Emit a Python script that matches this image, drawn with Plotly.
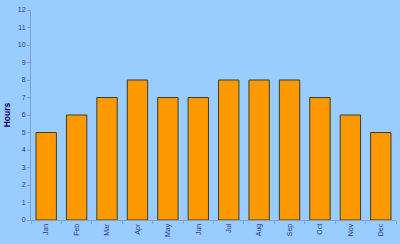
import plotly.graph_objects as go

months = ["Jan", "Feb", "Mar", "Apr", "May", "Jun", "Jul", "Aug", "Sep", "Oct", "Nov", "Dec"]
hours = [5, 6, 7, 8, 7, 7, 8, 8, 8, 7, 6, 5]
y_ticks = list(range(0, 13))

fig = go.Figure()
fig.add_trace(go.Bar(
    x=months, y=hours,
    marker=dict(color="#FF9900", line=dict(color="#3d3d2a", width=1)),
))

axis_color = "#7f9fcf"
font_color = "#333399"

fig.update_layout(
    width=400, height=244,
    margin=dict(l=31, r=4, t=10, b=24),
    paper_bgcolor="#99CCFF",
    plot_bgcolor="#99CCFF",
    bargap=0.33,
    showlegend=False,
    font=dict(family="Liberation Sans, Arial", size=7, color=font_color),
    xaxis=dict(
        type="category",
        showline=True, linecolor=axis_color, linewidth=1,
        ticks="outside", tickson="boundaries", ticklen=3, tickcolor=axis_color,
        tickangle=-90, showgrid=False,
        tickfont=dict(size=7, color=font_color),
    ),
    yaxis=dict(
        range=[0, 12], tickvals=y_ticks,
        showline=True, linecolor=axis_color, linewidth=1,
        ticks="outside", ticklen=3, tickcolor=axis_color,
        showgrid=False, zeroline=False,
        tickfont=dict(size=7, color=font_color),
        title=dict(text="<b>Hours</b>", font=dict(size=8.5, color="#000066"), standoff=5),
    ),
)

fig.write_html("out.html")
